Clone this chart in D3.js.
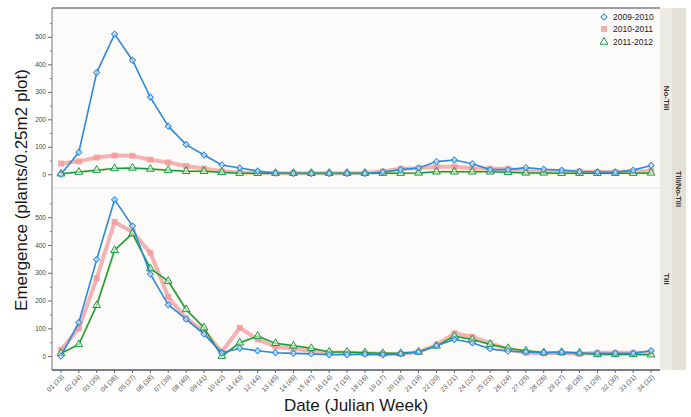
<!DOCTYPE html>
<html><head><meta charset="utf-8">
<script src="https://cdn.jsdelivr.net/npm/d3@7"></script>
<style>
html,body{margin:0;padding:0;background:#fff;}
svg{display:block;font-family:"Liberation Sans",Arial,Helvetica,sans-serif;}
</style></head>
<body><svg id="chart" width="691" height="417"></svg>
<script>
const weeks = ["01 (33)","02 (34)","03 (35)","04 (36)","05 (37)","06 (38)","07 (39)","08 (40)","09 (41)","10 (42)","11 (43)","12 (44)","13 (45)","14 (46)","15 (47)","16 (14)","17 (15)","18 (16)","19 (17)","20 (18)","21 (19)","22 (20)","23 (21)","24 (22)","25 (23)","26 (24)","27 (25)","28 (26)","29 (27)","30 (28)","31 (29)","32 (30)","33 (31)","34 (32)"];
const seasons = ["2009-2010","2010-2011","2011-2012"];
const panels = ["No-Till","Till"];
const yTicks = [0,100,200,300,400,500];

// No-Till panel
const noTill2009 = [0,80,370,510,415,280,175,108,70,34,23,12,4,3,3,3,3,3,8,17,23,46,52,38,17,17,24,18,15,10,8,7,15,32];
const noTill2010 = [39,47,61,68,67,53,43,30,21,11,6,5,4,4,4,4,4,5,10,20,22,27,27,22,20,20,10,10,10,10,8,8,10,12];
const noTill2011 = [2,8,15,21,23,19,15,11,11,7,4,4,4,4,4,4,4,4,4,4,5,9,9,9,9,7,5,5,4,4,4,4,4,5];
// Till panel
const till2009 = [0,121,348,563,468,295,185,133,79,12,28,19,12,10,8,5,5,7,5,8,15,37,60,48,26,18,15,12,14,10,10,10,10,19];
const till2010 = [22,100,280,483,447,372,213,136,88,15,102,60,34,26,18,12,12,10,8,8,15,40,82,70,46,25,12,10,12,8,12,12,12,12];
const till2011 = [10,42,183,381,441,315,270,168,102,0,48,72,46,37,28,15,15,12,10,10,15,37,72,60,43,28,19,13,14,12,6,6,6,5];

const panelData = [
  [noTill2009, noTill2010, noTill2011],
  [till2009, till2010, till2011]
];

const svg = d3.select("#chart");
const L = 52, R = 660;
const panelBox = [[8,188],[188,370]];

const x = d3.scalePoint().domain(weeks).range([L,R]).padding(0.5);

svg.append("rect").attr("x",L).attr("y",8).attr("width",R-L).attr("height",362).attr("fill","#fcfbfa");
svg.append("rect").attr("x",R).attr("y",8).attr("width",12).attr("height",362).attr("fill","#edece4");
svg.append("rect").attr("x",R+12).attr("y",8).attr("width",14).attr("height",362).attr("fill","#e3e1d6");

const colors = ["#2e8ad8","#f29a9a","#149a4c"];
const diamondPath = d3.symbol().type(d3.symbolSquare).size(18)();
const triPath = d3.symbol().type(d3.symbolTriangle).size(26)();

panelData.forEach((series,pi)=>{
  const [t,b] = panelBox[pi];
  const y = d3.scaleLinear().domain([-50,605]).range([b,t]);
  const g = svg.append("g");
  const ax = d3.axisLeft(y).tickValues(yTicks).tickSize(4).tickPadding(2).tickFormat(d3.format("d"));
  const ag = g.append("g").attr("transform",`translate(${L},0)`).call(ax);
  ag.select(".domain").remove();
  ag.selectAll(".tick line").attr("stroke","#666");
  ag.selectAll(".tick text").attr("font-size","6.5px").attr("fill","#444");
  const minor = d3.axisLeft(y).tickValues([50,150,250,350,450,550]).tickSize(2).tickFormat("");
  const mg = g.append("g").attr("transform",`translate(${L},0)`).call(minor);
  mg.select(".domain").remove();
  mg.selectAll(".tick line").attr("stroke","#777");

  svg.append("text").attr("transform",`translate(${R+3.5},${(t+b)/2}) rotate(90)`)
    .attr("text-anchor","middle").attr("font-size","8px").attr("font-weight","bold").attr("fill","#333")
    .text(panels[pi]);

  const line = d3.line().x((d,i)=>x(weeks[i])).y(d=>y(d));
  g.append("path").datum(series[1]).attr("d",line).attr("fill","none")
    .attr("stroke",colors[1]).attr("stroke-width",4).attr("stroke-opacity",0.75).attr("stroke-linejoin","round");
  g.selectAll(".sq").data(series[1]).join("rect")
    .attr("x",(d,i)=>x(weeks[i])-3).attr("y",d=>y(d)-3).attr("width",6).attr("height",6)
    .attr("fill",colors[1]).attr("opacity",0.8);
  g.append("path").datum(series[2]).attr("d",line).attr("fill","none")
    .attr("stroke","#e4df7a").attr("stroke-width",3).attr("stroke-opacity",0.5);
  g.append("path").datum(series[2]).attr("d",line).attr("fill","none")
    .attr("stroke",colors[2]).attr("stroke-width",1.5);
  g.selectAll(".tri").data(series[2]).join("path")
    .attr("d",triPath).attr("transform",(d,i)=>`translate(${x(weeks[i])},${y(d)})`)
    .attr("fill","#f4f6d8").attr("fill-opacity",0.6).attr("stroke",colors[2]).attr("stroke-width",1);
  g.append("path").datum(series[0]).attr("d",line).attr("fill","none")
    .attr("stroke",colors[0]).attr("stroke-width",1.6);
  g.selectAll(".dia").data(series[0]).join("path")
    .attr("d",diamondPath).attr("transform",(d,i)=>`translate(${x(weeks[i])},${y(d)}) rotate(45)`)
    .attr("fill","#fff").attr("fill-opacity",0.5).attr("stroke",colors[0]).attr("stroke-width",1);
});

svg.append("text").attr("transform",`translate(${R+16},189) rotate(90)`)
  .attr("text-anchor","middle").attr("font-size","7.5px").attr("font-weight","bold").attr("fill","#333")
  .text("Till/No-Till");

svg.append("line").attr("x1",L).attr("x2",R).attr("y1",8).attr("y2",8).attr("stroke","#3c4150").attr("stroke-width",1.2);
svg.append("line").attr("x1",L).attr("x2",R).attr("y1",188).attr("y2",188).attr("stroke","#dfe6ea").attr("stroke-width",1);
svg.append("line").attr("x1",L).attr("x2",L).attr("y1",8).attr("y2",370).attr("stroke","#777").attr("stroke-width",1);
svg.append("line").attr("x1",L).attr("x2",R).attr("y1",370).attr("y2",370).attr("stroke","#4a5566").attr("stroke-width",1.4);

const xg = svg.append("g");
weeks.forEach(w=>{
  xg.append("line").attr("x1",x(w)).attr("x2",x(w)).attr("y1",370).attr("y2",373).attr("stroke","#666");
  xg.append("text").attr("transform",`translate(${x(w)+2},${376}) rotate(-45)`)
    .attr("text-anchor","end").attr("dy","0.3em").attr("font-size","6.6px").attr("fill","#555").text(w);
});

svg.append("text").attr("x",356).attr("y",411).attr("text-anchor","middle")
  .attr("font-size","17px").attr("fill","#1a1a1a").text("Date (Julian Week)");
svg.append("text").attr("transform","translate(27,190) rotate(-90)").attr("text-anchor","middle")
  .attr("font-size","17px").attr("fill","#1a1a1a").text("Emergence (plants/0.25m2 plot)");

const lg = svg.append("g");
const ly = [17,29,42];
seasons.forEach((s,i)=>{
  const cx = 604, cy = ly[i];
  if(i===0) lg.append("path").attr("d",diamondPath).attr("transform",`translate(${cx},${cy}) rotate(45)`).attr("fill","#fff").attr("stroke",colors[0]);
  if(i===1) lg.append("rect").attr("x",cx-3).attr("y",cy-3).attr("width",6).attr("height",6).attr("fill",colors[1]).attr("opacity",0.8);
  if(i===2) lg.append("path").attr("d",triPath).attr("transform",`translate(${cx},${cy})`).attr("fill","#fff").attr("stroke",colors[2]);
  lg.append("text").attr("x",613).attr("y",cy).attr("dy","0.35em").attr("font-size","8.5px").attr("fill","#222").text(s);
});
</script></body></html>
